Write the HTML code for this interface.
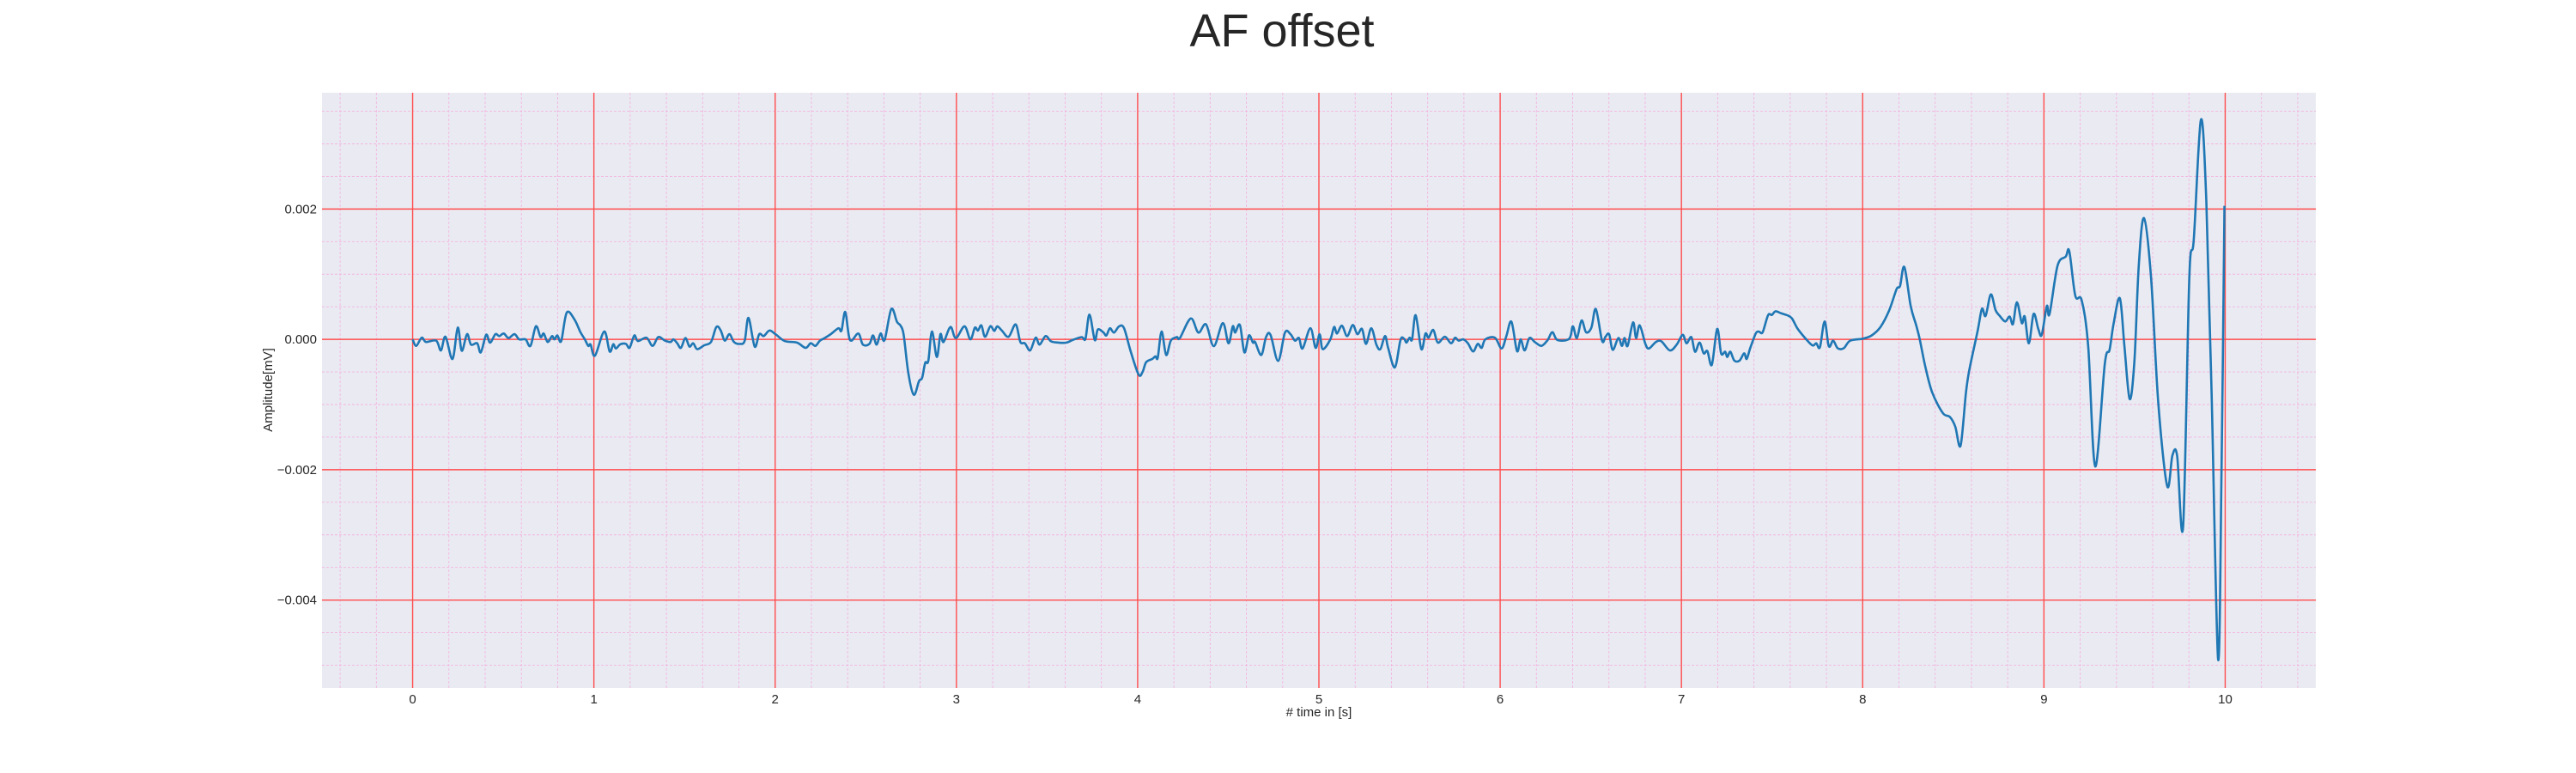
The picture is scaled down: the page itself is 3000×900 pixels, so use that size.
<!DOCTYPE html>
<html><head><meta charset="utf-8"><style>
html,body{margin:0;padding:0;background:#fff;}
svg{display:block;font-family:"Liberation Sans",Arial,sans-serif;}
</style></head><body>
<svg id="chart" width="3000" height="900" viewBox="0 0 3000 900" xmlns="http://www.w3.org/2000/svg">
<text x="1493" y="54" font-size="54" text-anchor="middle" fill="#262626">AF offset</text>
<rect x="375" y="108" width="2322" height="693" fill="#eaeaf2"/>
<g id="grid"></g>
<g id="ticks"></g>
<path id="series" fill="none" stroke="#1f77b4" stroke-width="2.6" stroke-linejoin="round"/>
<text x="1536" y="834" font-size="15" text-anchor="middle" fill="#262626"># time in [s]</text>
<text transform="translate(317,454) rotate(-90)" font-size="15" text-anchor="middle" fill="#262626">Amplitude[mV]</text>
</svg>
<script>
const times = [0,0.02,0.05,0.074,0.13,0.156,0.181,0.22,0.249,0.271,0.30,0.322,0.356,0.376,0.406,0.427,0.457,0.478,0.503,0.529,0.562,0.588,0.623,0.65,0.68,0.706,0.723,0.745,0.769,0.782,0.799,0.82,0.85,0.892,0.926,0.95,0.969,0.982,1.006,1.057,1.087,1.107,1.121,1.146,1.177,1.197,1.223,1.243,1.29,1.324,1.355,1.392,1.423,1.439,1.46,1.48,1.505,1.527,1.548,1.57,1.609,1.646,1.676,1.7,1.722,1.748,1.773,1.807,1.832,1.853,1.887,1.912,1.937,1.968,2.002,2.053,2.12,2.168,2.196,2.222,2.247,2.273,2.307,2.349,2.366,2.387,2.413,2.459,2.484,
2.52,2.54,2.56,2.582,2.604,2.641,2.672,2.692,2.709,2.735,2.765,2.794,2.811,2.828,2.845,2.865,2.892,2.912,2.929,2.967,2.997,3.045,3.077,3.102,3.119,3.138,3.158,3.187,3.209,3.226,3.251,3.288,3.327,3.353,3.378,3.407,3.437,3.459,3.492,3.522,3.564,3.607,3.641,3.691,3.712,3.734,3.763,3.78,3.81,3.827,3.847,3.869,3.898,3.925,3.962,4.005,4.027,4.047,4.081,4.098,4.111,4.132,4.157,4.183,4.216,4.233,4.293,4.335,4.377,4.42,4.47,4.501,4.525,4.538,4.564,4.589,4.614,4.636,4.648,4.682,4.708,4.733,4.775,4.813,4.843,4.868,4.89,4.91,4.953,4.982,5.004,5.021,5.063,5.084,5.1,5.127,5.156,
5.187,5.212,5.238,5.26,5.289,5.317,5.339,5.365,5.382,5.419,5.45,5.47,5.483,5.5,5.514,5.534,5.565,5.588,5.605,5.631,5.656,5.695,5.729,5.751,5.771,5.797,5.822,5.851,5.876,5.898,5.918,5.971,6.008,6.034,6.062,6.093,6.113,6.135,6.161,6.191,6.228,6.262,6.288,6.316,6.381,6.401,6.423,6.449,6.474,6.503,6.528,6.562,6.581,6.601,6.621,6.652,6.672,6.686,6.703,6.733,6.75,6.77,6.801,6.821,6.859,6.889,6.936,6.974,7.007,7.028,7.055,7.075,7.1,7.123,7.143,7.168,7.197,7.219,7.241,7.253,7.27,7.292,7.321,7.346,7.36,7.38,7.41,7.427,7.448,7.478,7.499,7.519,7.55,7.583,7.609,7.642,
7.695,7.725,7.744,7.764,7.79,7.813,7.837,7.862,7.896,7.931,8.0,8.049,8.098,8.147,8.187,8.206,8.23,8.265,8.295,8.314,8.344,8.383,8.442,8.481,8.511,8.54,8.57,8.589,8.635,8.658,8.678,8.707,8.733,8.756,8.786,8.811,8.829,8.851,8.878,8.894,8.917,8.943,8.969,8.988,9.016,9.031,9.075,9.12,9.14,9.173,9.208,9.244,9.283,9.336,9.362,9.385,9.419,9.444,9.473,9.499,9.523,9.552,9.591,9.631,9.68,9.709,9.735,9.768,9.802,9.827,9.866,9.896,9.925,9.961,9.98,9.996];
// amplitude in units of 1e-4 mV
const amplitudeE4 = [0,-1.0,0.26,-0.4,-0.2,-1.7,0.4,-3.0,1.8,-1.75,0.8,-0.8,-0.6,-2.0,0.7,-0.5,0.8,0.5,0.9,0.2,0.8,0,0,-1.0,2.0,0.35,0.9,-0.4,0.5,0,0.6,-0.26,4.1,3.1,1.1,0,-1.0,-0.8,-2.5,1.2,-1.85,-0.75,-1.4,-0.75,-0.7,-1.3,0.6,-0.26,0.26,-1.0,0.35,-0.2,-0.4,0,-0.6,-1.3,0.2,-1.1,-0.6,-1.5,-0.9,-0.4,1.9,1.35,-0.2,0.8,-0.4,-0.7,-0.2,3.3,-1.1,0.8,0.5,1.35,0.8,-0.26,-0.5,-1.3,-0.6,-1.0,-0.2,0.2,0.8,1.7,1.35,4.2,-0.1,0.9,-0.8,
-0.7,0.6,-0.8,0.9,-0.1,4.65,2.7,2.1,0.7,-5.2,-8.5,-6.4,-5.9,-3.6,-3.3,1.2,-2.7,0.8,-0.4,1.9,0.2,2.0,0,1.8,1.35,2.15,0.4,2.0,1.3,2.0,1.35,0.4,2.3,-0.4,-0.6,-1.7,0.26,-0.8,0.5,-0.3,-0.5,-0.5,-0.1,0.35,0.1,3.8,-0.1,1.5,1.1,0.6,1.7,1.05,2.0,1.7,-1.9,-5.4,-5.0,-3.5,-3.0,-2.6,-2.8,1.2,-2.4,-0.2,0.35,0.2,3.2,1.05,2.3,-1.05,2.5,-0.6,2.0,1.05,2.2,-2.0,0.6,-0.5,-0.4,-2.4,0.35,0.7,-3.3,1.05,0.8,-0.2,0.2,-1.4,1.7,-1.3,0.8,-1.5,0,1.9,0.9,2.1,0.5,
2.2,0.8,1.6,-0.7,1.7,-0.8,-1.5,0.5,-1.3,-4.3,-0.1,0.1,-0.5,0.26,0,3.7,-1.5,0.9,0.26,1.45,-0.5,0.4,-0.6,0.26,-0.2,0,-0.6,-1.85,-0.7,-1.3,0,0.26,-1.4,0.5,2.7,-1.8,0,-1.7,0.2,-0.4,-1.0,-0.1,1.1,-0.1,0.1,2.0,0.2,2.9,1.1,1.8,4.65,-0.2,0.4,0.8,-1.6,0.2,-1.0,0.2,-1.0,2.6,0.2,2.15,-0.7,-1.4,-0.4,-0.3,-1.7,-0.8,0.7,-0.6,0.35,-1.9,-0.5,-2.15,-1.8,-3.9,1.6,-2.15,-1.9,-2.7,-1.9,-3.25,-3.25,-2.15,-3.0,-1.3,0.9,1.2,1.1,3.7,3.75,4.3,4.0,3.7,3.25,1.6,
-0.2,-0.95,-0.6,-1.2,2.75,-1.05,-0.2,-1.35,-1.35,-0.2,0.1,0.6,1.9,4.5,7.7,8.2,11.1,5.1,2.2,0.1,-4.0,-8.1,-11.3,-11.9,-13.4,-16.3,-8.1,-4.6,1.4,4.7,3.6,6.9,4.5,3.6,2.75,3.5,2.35,5.7,2.5,3.5,-0.6,3.9,1.6,0.7,5.1,3.9,11.3,12.7,13.5,6.7,6.0,-1.05,-19.5,-3.7,-1.6,2.5,6.3,-1.05,-9.15,-3.4,11.3,18.6,9.5,-9.85,-22.5,-17.8,-17.9,-28.6,9.5,15.4,33.7,21.2,-8.1,-49.1,-19.8,20.5];
const xTicks = [0,1,2,3,4,5,6,7,8,9,10];
const yTicks = [0.002,0,-0.002,-0.004];
const yTickLabels = ["0.002","0.000","\u22120.002","\u22120.004"];

const NS="http://www.w3.org/2000/svg";
const L=375,R=2697,T=108,B=801, X0=-0.5,X1=10.5,Y0=-0.005349,Y1=0.003784;
function xs(t){return L+(t-X0)/(X1-X0)*(R-L);}
function ys(v){return B-(v-Y0)/(Y1-Y0)*(B-T);}
const grid=document.getElementById('grid'), ticks=document.getElementById('ticks');
function line(x1,y1,x2,y2,stroke,w,dash,name){
  const l=document.createElementNS(NS,'line');
  l.setAttribute('x1',x1);l.setAttribute('y1',y1);l.setAttribute('x2',x2);l.setAttribute('y2',y2);
  l.setAttribute('stroke',stroke);l.setAttribute('stroke-width',w);
  if(dash)l.setAttribute('stroke-dasharray',dash);
  
  
  grid.appendChild(l);
}
for(let i=-2;i<=52;i++){const t=i*0.2; if(t<X0||t>X1||i%5===0)continue; line(xs(t),T,xs(t),B,'#f2b6e0',0.9,'3,2','x-minor-gridline');}
for(let i=-11;i<=8;i++){const v=i*0.0005; if(v<Y0||v>Y1||i%4===0)continue; line(L,ys(v),R,ys(v),'#f2b6e0',0.9,'3,2','y-minor-gridline');}
xTicks.forEach(t=>line(xs(t),T,xs(t),B,'#ff4d4d',1.4,null,'x-major-gridline'));
yTicks.forEach(v=>line(L,ys(v),R,ys(v),'#ff4d4d',1.4,null,'y-major-gridline'));
xTicks.forEach(t=>{const e=document.createElementNS(NS,'text');e.textContent=String(t);
  e.setAttribute('x',xs(t));e.setAttribute('y',819);e.setAttribute('font-size','15');e.setAttribute('text-anchor','middle');e.setAttribute('fill','#262626');
  
  
  ticks.appendChild(e);});
yTicks.forEach((v,i)=>{const e=document.createElementNS(NS,'text');e.textContent=yTickLabels[i];
  e.setAttribute('x',369);e.setAttribute('y',ys(v)+5);e.setAttribute('font-size','15');e.setAttribute('text-anchor','end');e.setAttribute('fill','#262626');
  
  
  ticks.appendChild(e);});
const pts=times.map((t,i)=>[xs(t),ys(amplitudeE4[i]*1e-4)]);
let d='M'+pts[0][0].toFixed(1)+','+pts[0][1].toFixed(1);
for(let i=0;i<pts.length-1;i++){
  const p0=pts[Math.max(0,i-1)],p1=pts[i],p2=pts[i+1],p3=pts[Math.min(pts.length-1,i+2)];
  const c1x=p1[0]+(p2[0]-p0[0])/6,c1y=p1[1]+(p2[1]-p0[1])/6;
  const c2x=p2[0]-(p3[0]-p1[0])/6,c2y=p2[1]-(p3[1]-p1[1])/6;
  d+='C'+c1x.toFixed(1)+','+c1y.toFixed(1)+' '+c2x.toFixed(1)+','+c2y.toFixed(1)+' '+p2[0].toFixed(1)+','+p2[1].toFixed(1);
}
document.getElementById('series').setAttribute('d',d);
</script>
</body></html>
